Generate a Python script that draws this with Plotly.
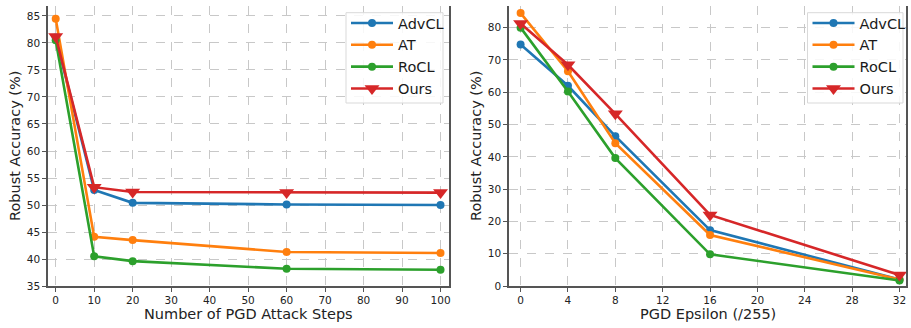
import plotly.graph_objects as go

# ---- data ----
steps = [0, 10, 20, 60, 100]
steps_advcl = [81.0, 52.8, 50.4, 50.1, 50.0]
steps_at = [84.5, 44.1, 43.5, 41.3, 41.1]
steps_rocl = [80.5, 40.5, 39.6, 38.2, 38.0]
steps_ours = [81.2, 53.3, 52.4, 52.3, 52.3]

eps = [0, 4, 8, 16, 32]
eps_advcl = [74.8, 62.0, 46.4, 17.3, 2.0]
eps_at = [84.5, 66.5, 44.2, 15.8, 2.0]
eps_rocl = [80.0, 60.2, 39.6, 9.8, 1.7]
eps_ours = [81.3, 68.5, 53.3, 22.0, 3.4]

names = ["AdvCL", "AT", "RoCL", "Ours"]
colors = ["#1f77b4", "#ff7f0e", "#2ca02c", "#d62728"]
symbols = ["circle", "circle", "circle", "triangle-down"]
msizes = [8, 8, 8, 13]

left_xtitle = "Number of PGD Attack Steps"
right_xtitle = "PGD Epsilon (/255)"
ytitle = "Robust Accuracy (%)"

W, H = 911, 328
FONT = "DejaVu Sans"

fig = go.Figure()

left_series = [steps_advcl, steps_at, steps_rocl, steps_ours]
right_series = [eps_advcl, eps_at, eps_rocl, eps_ours]

for i, ys in enumerate(left_series):
    fig.add_trace(go.Scatter(
        x=steps, y=ys, name=names[i], mode="lines+markers",
        line=dict(color=colors[i], width=2.6),
        marker=dict(symbol=symbols[i], size=msizes[i], color=colors[i]),
        xaxis="x", yaxis="y", legend="legend",
    ))
for i, ys in enumerate(right_series):
    fig.add_trace(go.Scatter(
        x=eps, y=ys, name=names[i], mode="lines+markers",
        line=dict(color=colors[i], width=2.6),
        marker=dict(symbol=symbols[i], size=msizes[i], color=colors[i]),
        xaxis="x2", yaxis="y2", legend="legend2",
    ))

def px_x(p):
    return p / W

def px_y(p):
    return 1 - p / H

axis_common = dict(
    showgrid=True, gridcolor="#c8c8c8", griddash="dash", gridwidth=1,
    showline=True, linecolor="#555555", linewidth=1.6,
    ticks="outside", ticklen=4, tickcolor="#555555", tickwidth=1,
    tickfont=dict(family=FONT, size=10.5, color="#222222"),
    zeroline=False, automargin=False,
)

legend_common = dict(
    bgcolor="rgba(0,0,0,0)", borderwidth=0,
    font=dict(family=FONT, size=14.5, color="#1a1a1a"),
    xanchor="left", yanchor="top", itemwidth=42, tracegroupgap=2,
)

title_font = dict(family=FONT, size=14.5, color="#222222")

annotations = [
    dict(text=left_xtitle, xref="paper", yref="paper", x=px_x(248.5), y=px_y(314),
         xanchor="center", yanchor="middle", showarrow=False, font=title_font),
    dict(text=right_xtitle, xref="paper", yref="paper", x=px_x(707.5), y=px_y(314),
         xanchor="center", yanchor="middle", showarrow=False, font=title_font),
    dict(text=ytitle, xref="paper", yref="paper", x=px_x(15), y=px_y(146),
         xanchor="center", yanchor="middle", showarrow=False, textangle=-90, font=title_font),
    dict(text=ytitle, xref="paper", yref="paper", x=px_x(476), y=px_y(146),
         xanchor="center", yanchor="middle", showarrow=False, textangle=-90, font=title_font),
]

shapes = [
    dict(type="rect", xref="paper", yref="paper", layer="above",
         x0=px_x(346), x1=px_x(443), y0=px_y(103), y1=px_y(12.7),
         fillcolor="rgba(255,255,255,0.85)", line=dict(color="#d9d9d9", width=1)),
    dict(type="rect", xref="paper", yref="paper", layer="above",
         x0=px_x(807.5), x1=px_x(903), y0=px_y(103), y1=px_y(12.7),
         fillcolor="rgba(255,255,255,0.85)", line=dict(color="#d9d9d9", width=1)),
]

fig.update_layout(
    width=W, height=H,
    margin=dict(l=0, r=0, t=0, b=0, autoexpand=False),
    paper_bgcolor="white", plot_bgcolor="white",
    font=dict(family=FONT, color="#222222"),
    xaxis=dict(domain=[px_x(48), px_x(449)], range=[-2, 102.2], anchor="y",
               tickvals=list(range(0, 101, 10)), **axis_common),
    yaxis=dict(domain=[px_y(286), px_y(6)], range=[35, 86.85], anchor="x", mirror=True,
               tickvals=list(range(35, 86, 5)), **axis_common),
    xaxis2=dict(domain=[px_x(509), px_x(906)], range=[-0.98, 32.55], anchor="y2",
                tickvals=list(range(0, 33, 4)), **axis_common),
    yaxis2=dict(domain=[px_y(286), px_y(6)], range=[0, 86.7], anchor="x2", mirror=True,
                tickvals=list(range(0, 81, 10)), **axis_common),
    legend=dict(x=px_x(346), y=px_y(7.0), **legend_common),
    legend2=dict(x=px_x(807.5), y=px_y(7.0), **legend_common),
    annotations=annotations,
    shapes=shapes,
)

fig.write_html("out.html", config={"displayModeBar": False},
               post_script="document.body.style.margin='0px';")
